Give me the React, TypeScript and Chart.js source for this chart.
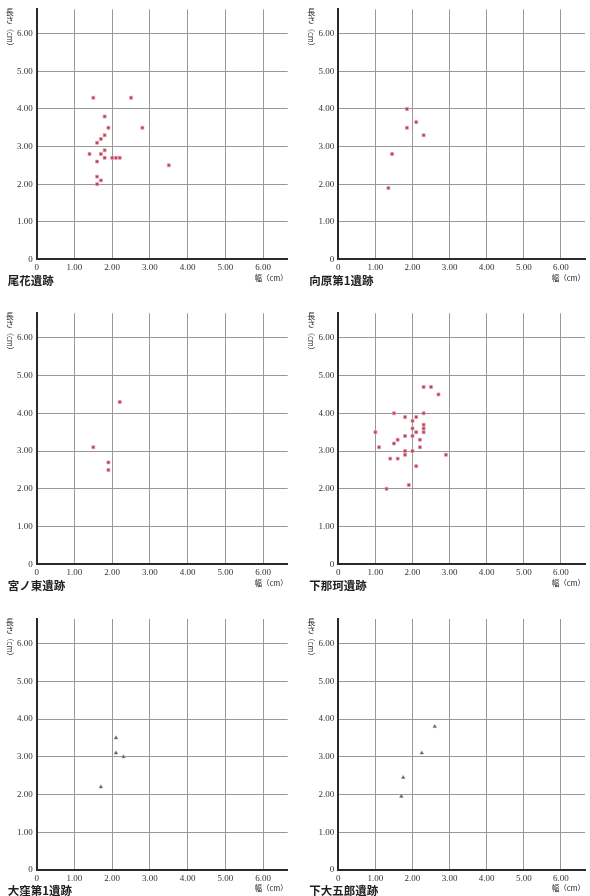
import { useEffect, useRef } from "react";
import { Chart, registerables } from "chart.js";

Chart.register(...registerables);

// Shared axis range (cm) and tick values for every panel
const AXIS_MAX = 6.65;
const TICK_STEP = 1;

// 尾花遺跡
const obanaWidth = [1.5, 2.5, 1.8, 1.9, 2.8, 1.8, 1.7, 1.6, 1.4, 1.8, 1.7, 1.8, 2.0, 2.1, 2.2, 1.6, 3.5, 1.6, 1.7, 1.6];
const obanaLength = [4.3, 4.3, 3.8, 3.5, 3.5, 3.3, 3.2, 3.1, 2.8, 2.9, 2.8, 2.7, 2.7, 2.7, 2.7, 2.6, 2.5, 2.2, 2.1, 2.0];

// 向原第1遺跡
const mukaiharaWidth = [1.85, 2.1, 1.85, 2.3, 1.45, 1.35];
const mukaiharaLength = [4.0, 3.65, 3.5, 3.3, 2.8, 1.9];

// 宮ノ東遺跡
const miyanohigashiWidth = [2.2, 1.5, 1.9, 1.9];
const miyanohigashiLength = [4.3, 3.1, 2.7, 2.5];

// 下那珂遺跡
const shimonakaWidth = [2.3, 2.5, 2.7, 1.5, 2.3, 1.8, 2.1, 2.0, 2.3, 2.0, 2.3, 1.0, 2.1, 2.3, 1.8, 2.0, 1.6, 2.2, 1.5, 1.1, 2.2, 1.8, 2.0, 1.8, 2.9, 1.4, 1.6, 2.1, 1.9, 1.3];
const shimonakaLength = [4.7, 4.7, 4.5, 4.0, 4.0, 3.9, 3.9, 3.8, 3.7, 3.6, 3.6, 3.5, 3.5, 3.5, 3.4, 3.4, 3.3, 3.3, 3.2, 3.1, 3.1, 3.0, 3.0, 2.9, 2.9, 2.8, 2.8, 2.6, 2.1, 2.0];

// 大窪第1遺跡
const okuboWidth = [2.1, 2.1, 2.3, 1.7];
const okuboLength = [3.5, 3.1, 3.0, 2.2];

// 下大五郎遺跡
const shimodaigoroWidth = [2.6, 2.25, 1.75, 1.7];
const shimodaigoroLength = [3.8, 3.1, 2.45, 1.95];

type Marker = "red" | "dark";

interface PanelSpec {
  name: string;
  widths: number[];
  lengths: number[];
  marker: Marker;
  col: number;
  row: number;
}

const panels: PanelSpec[] = [
  { name: "尾花遺跡", widths: obanaWidth, lengths: obanaLength, marker: "red", col: 0, row: 0 },
  { name: "向原第1遺跡", widths: mukaiharaWidth, lengths: mukaiharaLength, marker: "red", col: 1, row: 0 },
  { name: "宮ノ東遺跡", widths: miyanohigashiWidth, lengths: miyanohigashiLength, marker: "red", col: 0, row: 1 },
  { name: "下那珂遺跡", widths: shimonakaWidth, lengths: shimonakaLength, marker: "red", col: 1, row: 1 },
  { name: "大窪第1遺跡", widths: okuboWidth, lengths: okuboLength, marker: "dark", col: 0, row: 2 },
  { name: "下大五郎遺跡", widths: shimodaigoroWidth, lengths: shimodaigoroLength, marker: "dark", col: 1, row: 2 },
];

// Page grid: canvas boxes and the pixel origin of each plot
const COL_LEFT = [0, 295];
const COL_WIDTH = 295;
const ROW_TOP = [0, 300, 600];
const ROW_HEIGHT = [300, 300, 296];
const ORIGIN_X = [36.7, 338.3];
const ORIGIN_Y = [259.3, 564.3, 870];
const PLOT_SIZE = 251;

const TICK_FONT = { family: '"Liberation Serif", "DejaVu Serif", serif', size: 9 };
const JP_FONT = '"Noto Sans CJK JP", "Noto Sans", sans-serif';

const formatTick = (v: number | string) => {
  const n = Number(v);
  return n === 0 ? "0" : n.toFixed(2);
};

// Draws the vertical y title, the x title and the site name under each plot
const panelTextPlugin = {
  id: "panelText",
  afterDraw(chart: any, _args: any, opts: any) {
    const { ctx, chartArea: a } = chart;
    ctx.save();
    ctx.fillStyle = "#222";
    ctx.textBaseline = "middle";

    const tx = a.left - 27;
    ctx.textAlign = "center";
    ctx.font = `8px ${JP_FONT}`;
    ctx.fillText("長", tx, a.top + 3);
    ctx.fillText("さ", tx, a.top + 11);
    ctx.save();
    ctx.translate(tx, a.top + 28);
    ctx.rotate(Math.PI / 2);
    ctx.font = `7.5px ${JP_FONT}`;
    ctx.fillText("（cm）", 0, 0);
    ctx.restore();

    ctx.textAlign = "right";
    ctx.font = `7.5px ${JP_FONT}`;
    ctx.fillText("幅（cm）", a.right, a.bottom + 18.5);

    ctx.textAlign = "left";
    ctx.font = `bold 11.5px ${JP_FONT}`;
    ctx.fillText(opts.name, a.left - 29, a.bottom + 21);
    ctx.restore();
  },
};

function Panel({ spec }: { spec: PanelSpec }) {
  const ref = useRef<HTMLCanvasElement | null>(null);
  const left = COL_LEFT[spec.col];
  const top = ROW_TOP[spec.row];
  const height = ROW_HEIGHT[spec.row];

  useEffect(() => {
    if (!ref.current) return;
    const yAxisWidth = ORIGIN_X[spec.col] - left;
    const padTop = ORIGIN_Y[spec.row] - PLOT_SIZE - top;
    const padRight = COL_WIDTH - yAxisWidth - PLOT_SIZE;
    const xAxisHeight = height - padTop - PLOT_SIZE;
    const red = spec.marker === "red";

    const gridColor = "#999999";

    const chart = new Chart(ref.current, {
      type: "scatter",
      data: {
        datasets: [
          {
            data: spec.widths.map((w, i) => ({ x: w, y: spec.lengths[i] })),
            pointStyle: red ? "rect" : "triangle",
            pointRadius: red ? 2.1 : 2.1,
            backgroundColor: red ? "#a84058" : "#4e5653",
            borderColor: red ? "rgba(238,150,168,0.75)" : "rgba(140,150,146,0.6)",
            borderWidth: 1,
          },
        ],
      },
      options: {
        animation: false,
        responsive: false,
        layout: { padding: { left: 0, top: padTop, right: padRight, bottom: 0 } },
        plugins: {
          legend: { display: false },
          tooltip: { enabled: false },
          panelText: { name: spec.name },
        } as any,
        scales: {
          x: {
            type: "linear",
            min: 0,
            max: AXIS_MAX,
            afterFit: (s: any) => {
              s.height = xAxisHeight;
            },
            ticks: {
              stepSize: TICK_STEP,
              includeBounds: false,
              autoSkip: false,
              maxRotation: 0,
              padding: 3,
              color: "#333",
              font: TICK_FONT,
              callback: formatTick,
            },
            grid: { color: gridColor, lineWidth: 1, drawTicks: false },
            border: { color: "#2a2a2a", width: 2 },
          },
          y: {
            type: "linear",
            min: 0,
            max: AXIS_MAX,
            afterFit: (s: any) => {
              s.width = yAxisWidth;
            },
            ticks: {
              stepSize: TICK_STEP,
              includeBounds: false,
              autoSkip: false,
              padding: 4,
              color: "#333",
              font: TICK_FONT,
              callback: formatTick,
            },
            grid: { color: gridColor, lineWidth: 1, drawTicks: false },
            border: { color: "#2a2a2a", width: 2 },
          },
        },
      },
      plugins: [panelTextPlugin],
    });
    return () => chart.destroy();
  }, [spec, left, top, height]);

  return (
    <canvas
      ref={ref}
      width={COL_WIDTH}
      height={height}
      style={{ position: "absolute", left, top, width: COL_WIDTH, height }}
    />
  );
}

export default function App() {
  return (
    <div style={{ position: "absolute", left: 0, top: 0, width: 590, height: 896, background: "#fff" }}>
      {panels.map((p) => (
        <Panel key={p.name} spec={p} />
      ))}
    </div>
  );
}
